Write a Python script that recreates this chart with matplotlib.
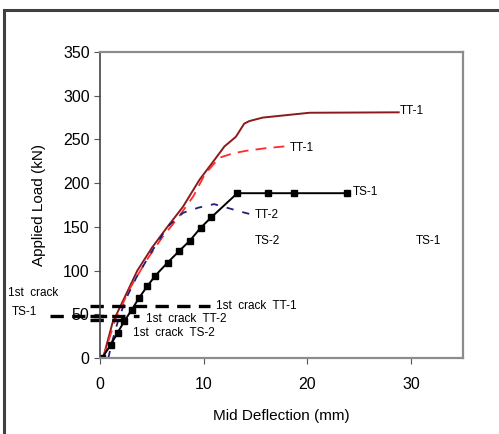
import matplotlib
matplotlib.use("Agg")
import matplotlib.pyplot as plt
from matplotlib.patches import Rectangle

plt.rcParams['font.family'] = ['Liberation Sans', 'DejaVu Sans']

# TT-1 (solid dark red)
tt1_x = [0.3, 1.2, 2.2, 3.6, 5.0, 6.5, 8.0, 9.6, 11.0, 12.0, 13.1, 13.9, 14.4, 15.7, 20.2, 28.8]
tt1_y = [0, 40, 65, 100, 126, 150, 173, 204, 226, 242, 253, 268, 271, 275, 280.5, 281]
# TT-1 second (dashed red)
tt1b_x = [0.3, 1.5, 3.0, 4.5, 6.0, 7.5, 9.0, 10.1, 11.5, 12.8, 14.1, 16.0, 17.8]
tt1b_y = [0, 45, 82, 112, 138, 160, 185, 210, 229, 234, 237, 240, 242]
# TT-2 (navy dashed)
tt2_x = [0.8, 1.2, 1.8, 2.6, 3.5, 5.0, 6.5, 8.0, 9.5, 11.0, 12.5, 14.0, 14.7]
tt2_y = [0, 20, 45, 70, 92, 122, 150, 166, 172, 176, 171, 166, 164]
# TS-1 (black with square markers)
ts1_x = [0.2, 1.03, 1.70, 2.34, 3.05, 3.78, 4.55, 5.32, 6.51, 7.60, 8.65, 9.71, 10.74, 13.24, 16.18, 18.75, 23.78]
ts1_y = [0, 15, 29, 42, 55, 69, 82, 94, 109, 122, 134, 149, 161, 188.5, 188.5, 188.5, 188.5]

# first-crack lines: (y, x_start, x_end)
crack_y = [59, 48, 43, 48]
crack_x0 = [-1.0, -1.0, -1.0, -4.8]
crack_x1 = [10.6, 3.8, 2.9, 1.5]

W, H = 499, 434
fig = plt.figure(figsize=(W / 100, H / 100), dpi=100)
fig.patches.append(Rectangle((4 / W, -0.1), 1.2, 1.1 - 10 / H,
                             transform=fig.transFigure, fill=False,
                             edgecolor='#404040', linewidth=2.2))
ax = fig.add_axes([100 / W, 1 - 358 / H, 363 / W, 306 / H])

ax.plot(tt1_x, tt1_y, color='#8B1A1A', lw=1.4)
ax.plot(tt1b_x, tt1b_y, color='#FF2A2A', lw=1.3, dashes=(6, 4))
ax.plot(tt2_x, tt2_y, color='#1F1F7A', lw=1.3, dashes=(4, 5))
ax.plot(ts1_x, ts1_y, color='black', lw=1.4, marker='s', markersize=4.5)

for y, x0, x1 in zip(crack_y, crack_x0, crack_x1):
    ax.plot([x0, x1], [y, y], color='black', lw=2.4, dashes=(4, 2.5), clip_on=False)

fs = 8.5
ax.text(28.9, 282, 'TT-1', fontsize=fs, va='center')
ax.text(18.3, 240, 'TT-1', fontsize=fs, va='center')
ax.text(24.4, 190, 'TS-1', fontsize=fs, va='center')
ax.text(14.9, 163, 'TT-2', fontsize=fs, va='center')
ax.text(14.9, 134, 'TS-2', fontsize=fs, va='center')
ax.text(30.4, 134, 'TS-1', fontsize=fs, va='center')
ax.text(11.2, 59, '1st  crack  TT-1', fontsize=fs, va='center')
ax.text(4.4, 45, '1st  crack  TT-2', fontsize=fs, va='center')
ax.text(3.2, 29, '1st  crack  TS-2', fontsize=fs, va='center')
ax.text(-8.9, 74, '1st  crack', fontsize=fs, va='center')
ax.text(-8.5, 53, 'TS-1', fontsize=fs, va='center')

ax.set_xlim(0, 35)
ax.set_ylim(0, 350)
ax.set_xticks([0, 10, 20, 30])
ax.set_yticks(range(0, 351, 50))
ax.tick_params(labelsize=11.5, length=4, color='#555555')
ax.tick_params(axis='x', pad=10)
for s in ['top', 'right', 'bottom']:
    ax.spines[s].set_color('#8C8C8C')
    ax.spines[s].set_linewidth(1.6)
ax.spines['left'].set_color('#444444')
ax.spines['left'].set_linewidth(1.2)
ax.set_xlabel('Mid Deflection (mm)', fontsize=11, labelpad=12)
ax.set_ylabel('Applied Load (kN)', fontsize=11, labelpad=12)

fig.savefig('out.png', dpi=100)
